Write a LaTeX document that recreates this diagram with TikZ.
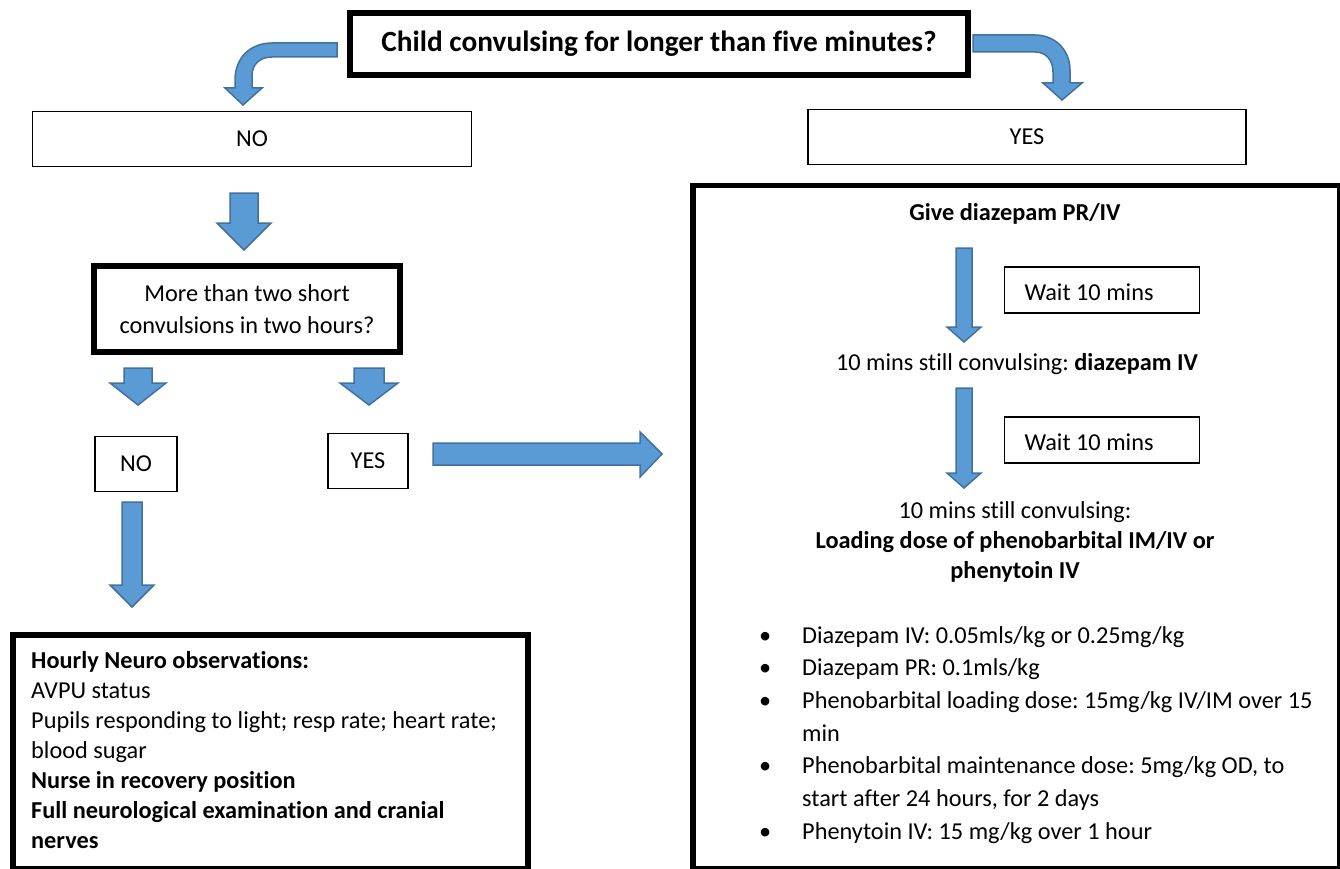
\documentclass[tikz,border=0pt]{standalone}
\usepackage{fontspec}
\setmainfont{Carlito}[Ligatures=NoCommon]
\usetikzlibrary{positioning}
\definecolor{arrowfill}{RGB}{91,155,213}
\definecolor{arrowedge}{RGB}{65,113,156}
\newcommand{\bul}{\makebox[46pt][l]{\hspace{3pt}\textbullet}}
\newcommand{\hang}{\hspace*{46pt}}

\begin{document}
\frenchspacing
\begin{tikzpicture}[x=1pt, y=-1pt,
    bigbox/.style={draw, line width=5.5pt, inner sep=0pt},
    thinbox/.style={draw, line width=1.2pt, inner sep=0pt},
    blockarrow/.style={fill=arrowfill, draw=arrowedge, line width=1.5pt, line join=miter},
    bodytext/.style={font=\fontsize{24.3}{30}\selectfont}]
    \useasboundingbox (0,0) rectangle (1340,869);

    % Question de depart
    \node[bigbox, minimum width=618pt, minimum height=62pt, font=\fontsize{29.3}{35}\selectfont\bfseries] (start) at (659,44) {Child convulsing for longer than five minutes?};

    % Branches NO / YES
    \node[thinbox, minimum width=439pt, minimum height=55pt, bodytext] (no1) at (252,139) {NO};
    \node[thinbox, minimum width=438pt, minimum height=55pt, bodytext] (yes1) at (1027,137) {YES};

    % Colonne gauche
    \node[bigbox, minimum width=306pt, minimum height=86pt, font=\fontsize{24.3}{32}\selectfont, align=center] (twoshort) at (247,309) {More than two short\\convulsions in two hours?};
    \node[thinbox, minimum width=82pt, minimum height=55pt, bodytext] (no2) at (136,464) {NO};
    \node[thinbox, minimum width=80pt, minimum height=55pt, bodytext] (yes2) at (368,461) {YES};
    \node[bigbox, anchor=north west, minimum width=515pt, minimum height=234pt] (obs) at (10,632) {};
    \node[bodytext, anchor=north west, align=left, inner sep=0pt] (obstext) at (31,651) {\textbf{Hourly Neuro observations:}\\AVPU status\\Pupils responding to light; resp rate; heart rate;\\blood sugar\\\textbf{Nurse in recovery position}\\\textbf{Full neurological examination and cranial}\\\textbf{nerves}};

    % Colonne droite
    \node[bigbox, anchor=north west, minimum width=647pt, minimum height=683pt] (treat) at (690,183) {};
    \node[bodytext] (give) at (1015,214) {\textbf{Give diazepam PR/IV}};
    \node[thinbox, minimum width=195pt, minimum height=46pt] (wait1) at (1102,290) {};
    \node[bodytext, anchor=west] (waittext1) at (1021,292) {Wait 10 mins};
    \node[bodytext] (still1) at (1017,364) {10 mins still convulsing: \textbf{diazepam IV}};
    \node[thinbox, minimum width=195pt, minimum height=46pt] (wait2) at (1102,440) {};
    \node[bodytext, anchor=west] (waittext2) at (1021,442) {Wait 10 mins};
    \node[bodytext, align=center] (still2) at (1015,542) {10 mins still convulsing:\\\textbf{Loading dose of phenobarbital IM/IV or}\\\textbf{phenytoin IV}};
    \node[font=\fontsize{24.3}{32.7}\selectfont, anchor=north west, align=left, inner sep=0pt] (doses) at (756,626) {\bul Diazepam IV: 0.05mls/kg or 0.25mg/kg\\\bul Diazepam PR: 0.1mls/kg\\\bul Phenobarbital loading dose: 15mg/kg IV/IM over 15\\\hang min\\\bul Phenobarbital maintenance dose: 5mg/kg OD, to\\\hang start after 24 hours, for 2 days\\\bul Phenytoin IV: 15 mg/kg over 1 hour};

    % Fleches bloc vers le bas
    \foreach \cx/\ya/\yb/\yc/\s/\h in {244/193/223/250/14/27, 138/368/383/405/14/28, 369/368/383/405/15/29, 132/502/585/607/10/22, 964/248/327/342/8/17, 964/388/473/488/8/17}
        \draw[blockarrow] (\cx-\s,\ya) -- (\cx+\s,\ya) -- (\cx+\s,\yb) -- (\cx+\h,\yb) -- (\cx,\yc) -- (\cx-\h,\yb) -- (\cx-\s,\yb) -- cycle;

    % Fleche YES vers la droite
    \draw[blockarrow] (433,443) -- (640,443) -- (640,432) -- (662,454) -- (640,477) -- (640,465) -- (433,465) -- cycle;

    % Fleches courbes du haut
    \draw[blockarrow] (337,43) -- (272,43) .. controls (250,43) and (235,58) .. (235,80) -- (235,88) -- (225,88) -- (243,105) -- (262,88) -- (252,88) -- (252,76) .. controls (252,64) and (260,57) .. (272,57) -- (337,57) -- cycle;
    \draw[blockarrow] (973,35) -- (1035,35) .. controls (1055,35) and (1070,50) .. (1070,70) -- (1070,83) -- (1082,83) -- (1062,100) -- (1043,83) -- (1053,83) -- (1053,72) .. controls (1053,60) and (1046,52) .. (1035,52) -- (973,52) -- cycle;
\end{tikzpicture}
\end{document}
